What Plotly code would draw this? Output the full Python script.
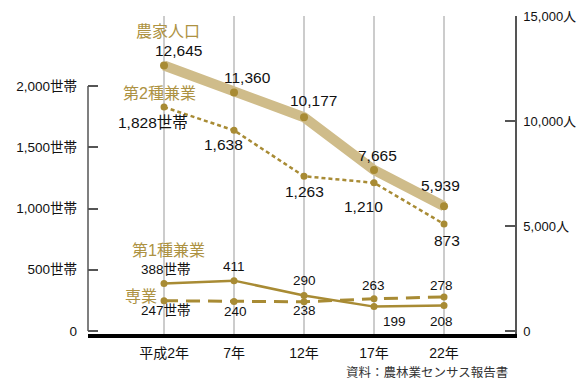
import plotly.graph_objects as go

# ---- data ----
years = ["平成2年", "7年", "12年", "17年", "22年"]
farm_population = [12645, 11360, 10177, 7665, 5939]      # 農家人口 (人, right axis)
second_part_time = [1828, 1638, 1263, 1210, 873]         # 第2種兼業 (世帯)
first_part_time = [388, 411, 290, 199, 208]              # 第1種兼業 (世帯)
full_time = [247, 240, 238, 263, 278]                    # 専業 (世帯)

pop_labels = ["12,645", "11,360", "10,177", "7,665", "5,939"]
second_labels = ["1,828世帯", "1,638", "1,263", "1,210", "873"]
first_labels = ["388世帯", "411", "290", "199", "208"]
full_labels = ["247世帯", "240", "238", "263", "278"]

left_ticks = [0, 500, 1000, 1500, 2000]
left_ticktext = ["0", "500世帯", "1,000世帯", "1,500世帯", "2,000世帯"]
right_ticks = [0, 5000, 10000, 15000]
right_ticktext = ["0", "5,000人", "10,000人", "15,000人"]

source_text = "資料：農林業センサス報告書"

# ---- styles ----
FONT = "Liberation Sans, Noto Sans CJK JP, sans-serif"
GOLD = "#a88b34"
GOLD_TEXT = "#ad9242"
TAN = "#cfbc8a"
AXIS = "#555555"

fig = go.Figure()

fig.add_trace(go.Scatter(
    x=years, y=farm_population, yaxis="y2", mode="lines+markers",
    line=dict(color=TAN, width=10), marker=dict(color=GOLD, size=8),
    showlegend=False, hoverinfo="skip"))
fig.add_trace(go.Scatter(
    x=years, y=second_part_time, mode="lines+markers",
    line=dict(color=GOLD, width=2.5, dash="4px,3px"), marker=dict(color=GOLD, size=7),
    showlegend=False, hoverinfo="skip"))
fig.add_trace(go.Scatter(
    x=years, y=first_part_time, mode="lines+markers",
    line=dict(color=GOLD, width=2.5), marker=dict(color=GOLD, size=7),
    showlegend=False, hoverinfo="skip"))
fig.add_trace(go.Scatter(
    x=years, y=full_time, mode="lines+markers",
    line=dict(color=GOLD, width=3, dash="14px,8px"), marker=dict(color=GOLD, size=7),
    showlegend=False, hoverinfo="skip"))

annotations = []

def add_labels(values, labels, yref, offsets, size):
    for xv, yv, t, (dx, dy) in zip(years, values, labels, offsets):
        annotations.append(dict(
            x=xv, y=yv, xref="x", yref=yref, text=t, showarrow=False,
            xshift=dx, yshift=-dy, xanchor="center", yanchor="middle",
            font=dict(family=FONT, size=size, color="#111111")))

add_labels(farm_population, pop_labels, "y2",
           [(14, -14.5), (13, -15), (9, -17), (3, -15), (-4, -21)], 15.5)
add_labels(second_part_time, second_labels, "y",
           [(-11, 15), (-11, 14), (0, 15), (-11, 24), (3, 16)], 15.5)
add_labels(first_part_time, first_labels, "y",
           [(2, -13.5), (0, -14), (0, -14.5), (20, 14.5), (-3, 15.5)], 13.5)
add_labels(full_time, full_labels, "y",
           [(2, 10), (1, 9.5), (0, 9), (-1, -13), (-3, -11)], 13.5)

# series names
def add_name(text, yv, yref, dx, dy):
    annotations.append(dict(
        x=years[0], y=yv, xref="x", yref=yref, text=text, showarrow=False,
        xshift=dx, yshift=-dy, xanchor="center", yanchor="middle",
        font=dict(family=FONT, size=16, color=GOLD_TEXT)))

add_name("農家人口", farm_population[0], "y2", 4, -33.5)
add_name("第2種兼業", second_part_time[0], "y", -5, -14)
add_name("第1種兼業", first_part_time[0], "y", 4, -32.5)
add_name("専業", full_time[0], "y", -23, -4)

annotations.append(dict(
    x=0.988, y=-0.1195, xref="paper", yref="paper", text=source_text,
    showarrow=False, xanchor="right", yanchor="middle",
    font=dict(family=FONT, size=12.5, color="#333333")))

fig.update_layout(
    width=579, height=387,
    margin=dict(l=88, r=64, t=16, b=53, autoexpand=False),
    paper_bgcolor="white", plot_bgcolor="white",
    font=dict(family=FONT, color="#111111"),
    xaxis=dict(
        type="category", range=[-1.086, 5.014], automargin=False,
        showline=True, linecolor="black", linewidth=4,
        showgrid=True, gridcolor="#cccccc", gridwidth=1.5,
        ticks="", ticklabelstandoff=3,
        tickfont=dict(size=14, family=FONT, color="#111111"),
        zeroline=False, fixedrange=True),
    yaxis=dict(
        range=[-24.5, 2571.4], tickvals=left_ticks, ticktext=left_ticktext,
        automargin=False,
        showgrid=False, zeroline=False, showline=False,
        ticks="inside", ticklen=10, tickwidth=1.5, tickcolor=AXIS,
        ticklabelstandoff=10,
        tickfont=dict(size=13.5, family=FONT, color="#111111")),
    yaxis2=dict(
        overlaying="y", side="right", automargin=False,
        range=[-142.9, 15000], tickvals=right_ticks, ticktext=right_ticktext,
        showgrid=False, zeroline=False, showline=True,
        linecolor=AXIS, linewidth=1.5,
        ticks="inside", ticklen=10, tickwidth=1.5, tickcolor=AXIS,
        ticklabelstandoff=4,
        tickfont=dict(size=13, family=FONT, color="#111111")),
    shapes=[dict(type="line", xref="paper", yref="y", x0=0, x1=0, y0=0, y1=2000,
                 line=dict(color=AXIS, width=1.5), layer="above")],
    annotations=annotations,
)

fig.write_html("out.html")
